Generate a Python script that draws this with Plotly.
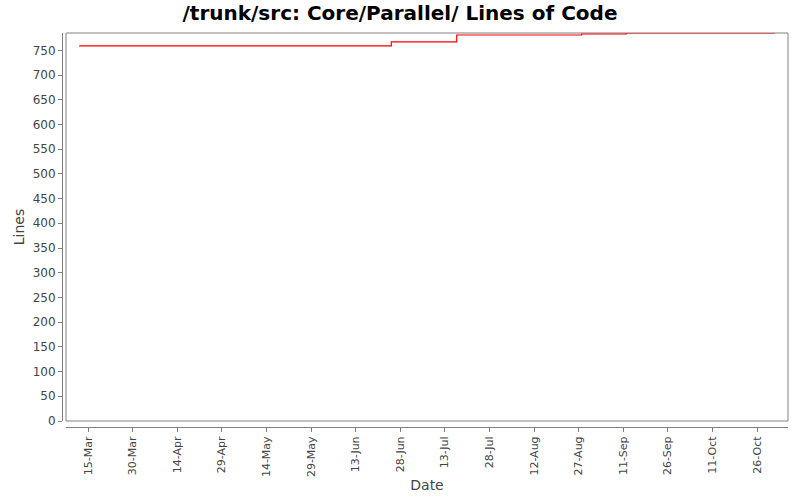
import plotly.graph_objects as go

# step points of the lines-of-code history
dates = ["2008-03-12", "2008-06-25", "2008-07-17", "2008-08-28", "2008-09-12", "2008-11-01"]
lines = [759, 767, 781, 783, 785, 785]

tick_dates = [
    "2008-03-15", "2008-03-30", "2008-04-14", "2008-04-29", "2008-05-14",
    "2008-05-29", "2008-06-13", "2008-06-28", "2008-07-13", "2008-07-28",
    "2008-08-12", "2008-08-27", "2008-09-11", "2008-09-26", "2008-10-11",
    "2008-10-26",
]
tick_labels = [
    "15-Mar", "30-Mar", "14-Apr", "29-Apr", "14-May", "29-May", "13-Jun",
    "28-Jun", "13-Jul", "28-Jul", "12-Aug", "27-Aug", "11-Sep", "26-Sep",
    "11-Oct", "26-Oct",
]
y_ticks = list(range(0, 751, 50))

font = "DejaVu Sans"
axis_grey = "#808080"

fig = go.Figure()
fig.add_trace(
    go.Scatter(
        x=dates,
        y=lines,
        mode="lines",
        line=dict(shape="hv", color="#ff0000", width=1.2),
        showlegend=False,
    )
)

fig.update_layout(
    width=800,
    height=500,
    margin=dict(l=62, r=12, t=33, b=73, autoexpand=False),
    paper_bgcolor="white",
    plot_bgcolor="white",
    font=dict(family=font, color="#444444", size=12),
    title=dict(
        text="<b>/trunk/src: Core/Parallel/ Lines of Code</b>",
        x=0.5,
        xanchor="center",
        y=1 - 13 / 500,
        yref="container",
        yanchor="middle",
        font=dict(family=font, size=20, color="#000000"),
    ),
    xaxis=dict(
        domain=[4 / 726, 1],
        anchor="free",
        position=0,
        automargin=False,
        type="date",
        range=["2008-03-07 14:00", "2008-11-05 10:00"],
        tickmode="array",
        tickvals=tick_dates,
        ticktext=tick_labels,
        tickangle=-90,
        ticks="outside",
        ticklen=4,
        tickcolor=axis_grey,
        tickfont=dict(size=11),
        showline=True,
        linecolor=axis_grey,
        linewidth=1,
        showgrid=False,
        zeroline=False,
        title=dict(text="Date", font=dict(size=14, color="#444444"), standoff=4),
    ),
    yaxis=dict(
        domain=[6 / 394, 1],
        anchor="free",
        position=0,
        automargin=False,
        range=[0, 785],
        tickmode="array",
        tickvals=y_ticks,
        ticks="outside",
        ticklen=4,
        tickcolor=axis_grey,
        showline=True,
        linecolor=axis_grey,
        linewidth=1,
        showgrid=False,
        zeroline=False,
        title=dict(text="Lines", font=dict(size=14, color="#444444"), standoff=3),
    ),
)

# plot area frame
fig.add_shape(
    type="rect",
    xref="x domain",
    yref="y domain",
    x0=0,
    x1=1,
    y0=0,
    y1=1,
    line=dict(color=axis_grey, width=1),
    layer="below",
)

# drop the default page margin so the figure sits at the window's corner
fig.write_html(
    "out.html",
    config={"displayModeBar": False},
    post_script="document.body.style.margin = '0';",
)
